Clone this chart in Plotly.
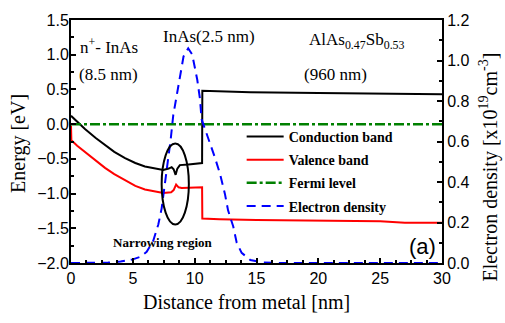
import plotly.graph_objects as go

# ---- data ----
cb_x = [0, 0.5, 1.13, 2, 2.75, 3.5, 4.37, 5.2, 5.98, 7.06, 7.46, 7.9, 8.14, 8.3, 8.46, 8.6, 8.8, 9.5, 10.2, 10.6, 10.62, 12, 14.5, 20, 25, 30]
cb_E = [0.12, 0.03, -0.07, -0.20, -0.30, -0.40, -0.49, -0.56, -0.61, -0.64, -0.66, -0.64, -0.62, -0.65, -0.73, -0.64, -0.59, -0.58, -0.57, -0.56, 0.48, 0.47, 0.46, 0.45, 0.44, 0.43]

vb_x = [0, 0.03, 0.5, 1.13, 2, 2.75, 3.5, 4.37, 5.2, 5.98, 7.06, 7.46, 8.1, 8.3, 8.5, 8.7, 8.95, 10.0, 10.6, 10.62, 12, 15, 20, 25, 27, 30]
vb_E = [-0.02, -0.23, -0.31, -0.40, -0.53, -0.63, -0.72, -0.81, -0.89, -0.94, -0.97, -0.99, -0.98, -0.95, -0.87, -0.91, -0.92, -0.91, -0.91, -1.36, -1.37, -1.38, -1.39, -1.40, -1.42, -1.42]

ef_x = [0, 30]
ef_E = [0.0, 0.0]

n_x = [0, 2, 3.0, 4.0, 5.0, 5.58, 6.12, 6.65, 7.06, 7.33, 7.6, 7.87, 8.06, 8.27, 8.54, 8.81, 9.1, 9.48, 9.8, 10.21, 10.43, 10.56, 11.1, 11.37, 11.64, 12.05, 12.45, 12.7, 13.12, 13.4, 13.8, 14.5, 15.5, 17, 20, 25, 30]
n_v = [0, 0, 0.002, 0.007, 0.018, 0.03, 0.055, 0.11, 0.19, 0.27, 0.39, 0.52, 0.61, 0.73, 0.82, 0.93, 1.02, 1.06, 1.03, 0.905, 0.81, 0.71, 0.62, 0.57, 0.52, 0.44, 0.34, 0.26, 0.18, 0.10, 0.05, 0.015, 0.003, 0, 0, 0, 0]

x_ticks = [0, 5, 10, 15, 20, 25, 30]
x_title = "Distance from metal [nm]"
y_title = "Energy [eV]"
y2_title = "Electron density [x10<sup>19</sup>cm<sup>-3</sup>]"

SERIF = "Liberation Serif, Times New Roman, serif"
SANS = "Liberation Sans, Arial, sans-serif"

fig = go.Figure()
fig.add_trace(go.Scatter(x=cb_x, y=cb_E, mode="lines", name="Conduction band",
                         legendgroup="g1", line=dict(color="black", width=2)))
fig.add_trace(go.Scatter(x=vb_x, y=vb_E, mode="lines", name="Valence band",
                         legendgroup="g2", line=dict(color="#ff0000", width=2)))
fig.add_trace(go.Scatter(x=ef_x, y=ef_E, mode="lines", name="Fermi level",
                         legendgroup="g3", line=dict(color="#008000", width=2.5, dash="10px,3px,3px,3px")))
fig.add_trace(go.Scatter(x=n_x, y=n_v, mode="lines", name="Electron density", yaxis="y2",
                         legendgroup="g4", line=dict(color="#0000ff", width=2, dash="9px,6px")))

axis_common = dict(showline=True, linewidth=2, linecolor="black", ticks="inside",
                   tickcolor="black", tickwidth=1.5, ticklen=5, showgrid=False, zeroline=False,
                   tickfont=dict(family=SANS, size=16, color="black"))

fig.update_layout(
    width=505, height=323,
    margin=dict(l=71, r=63, t=16, b=60),
    paper_bgcolor="white", plot_bgcolor="white",
    xaxis=dict(range=[0, 30], tickvals=x_ticks, mirror=True,
               minor=dict(dtick=1.25, ticks="inside", ticklen=3, tickcolor="black"),
               **axis_common),
    yaxis=dict(range=[-2, 1.5], dtick=0.5, tickformat=".1f", mirror=True, ticklabelstandoff=-3,
               minor=dict(dtick=0.25, ticks="inside", ticklen=3, tickcolor="black"),
               **axis_common),
    yaxis2=dict(range=[0, 1.2], dtick=0.2, tickformat=".1f", overlaying="y", side="right",
                minor=dict(dtick=0.1, ticks="inside", ticklen=3, tickcolor="black"),
                **axis_common),
    showlegend=True,
    legend=dict(x=0.46, y=0.585, xanchor="left", yanchor="top", bgcolor="rgba(0,0,0,0)",
                font=dict(family=SERIF, size=14, color="black", weight="bold"),
                traceorder="grouped", tracegroupgap=2, itemwidth=37),
)

fig.add_shape(type="circle", xref="x", yref="y", x0=7.33, x1=9.53, y0=-1.445, y1=-0.28,
              line=dict(color="black", width=2))

def ann(text, x, y, size=17, xanchor="left", family=SERIF, bold=False):
    fig.add_annotation(text=text, x=x, y=y, xref="x", yref="y", showarrow=False,
                       xanchor=xanchor, yanchor="middle",
                       font=dict(family=family, size=size, color="black",
                                 weight="bold" if bold else "normal"))

ann("n<sup>+</sup>- InAs", 0.55, 1.12)
ann("(8.5 nm)", 0.45, 0.71)
ann("InAs(2.5 nm)", 7.3, 1.26)
ann("AlAs<sub>0.47</sub>Sb<sub>0.53</sub>", 19.1, 1.2)
ann("(960 nm)", 21.35, 0.71, xanchor="center")
ann("Narrowing region", 7.44, -1.70, size=13, xanchor="center", bold=True)
ann("(a)", 28.46, -1.76, size=22, xanchor="center", family=SANS)

fig.add_annotation(text=x_title, xref="paper", yref="paper", x=(246-71)/371, y=-(303-263)/247,
                   showarrow=False, xanchor="center", yanchor="middle",
                   font=dict(family=SERIF, size=20, color="black"))
fig.add_annotation(text=y_title, xref="paper", yref="paper", x=-(71-19)/371, y=(263-142)/247,
                   showarrow=False, xanchor="center", yanchor="middle", textangle=-90,
                   font=dict(family=SERIF, size=20, color="black"))
fig.add_annotation(text=y2_title, xref="paper", yref="paper", x=1+(489-442)/371, y=(263-165)/247,
                   showarrow=False, xanchor="center", yanchor="middle", textangle=-90,
                   font=dict(family=SERIF, size=20, color="black"))

fig.write_html("out.html")
